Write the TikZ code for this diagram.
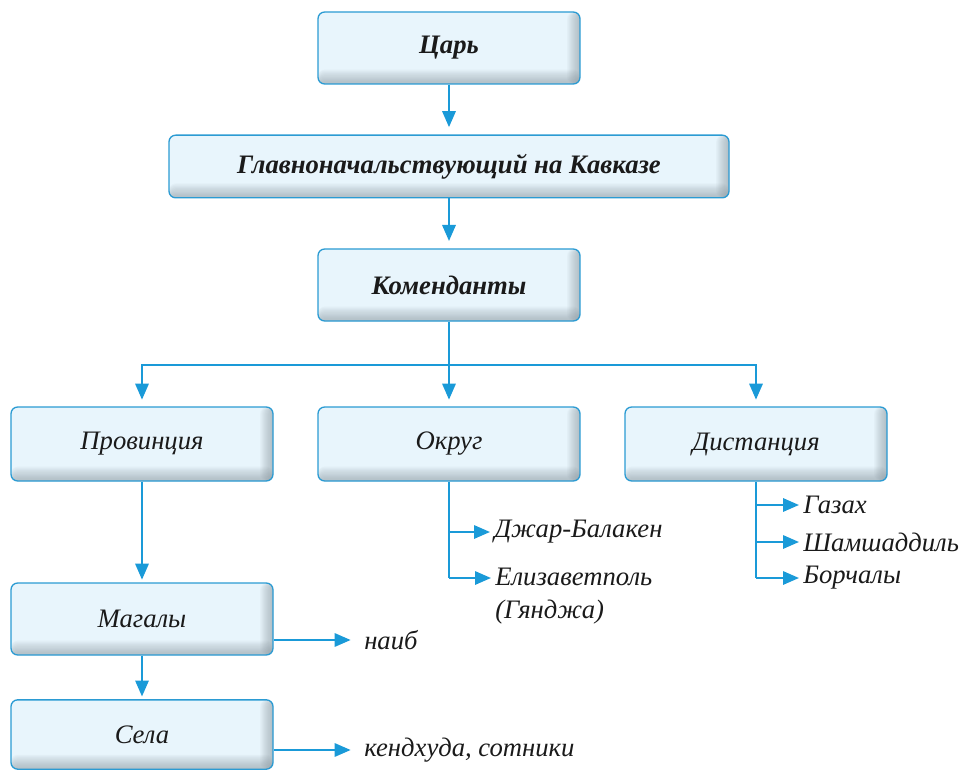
\documentclass[tikz,border=0pt]{standalone}
\usepackage{fontspec}
\setmainfont{Liberation Serif}
\usetikzlibrary{arrows.meta}
\definecolor{boxtop}{HTML}{E8F5FC}
\definecolor{boxbot}{HTML}{7F8C94}
\definecolor{edgeblue}{HTML}{2B9BD3}
\definecolor{arrblue}{HTML}{1A9AD8}
\definecolor{ink}{HTML}{1A1A1A}
\tikzset{
  box/.style={draw=edgeblue, line width=1pt, rounded corners=5pt, fill=boxtop,
    minimum width=196.5pt, minimum height=54pt, inner sep=0pt, text=ink,
    font=\fontsize{20}{24}\selectfont\itshape,
    path picture={
      \foreach \i in {1,...,12}{
        \fill[boxbot, fill opacity=0.05]
          ([xshift=-\i*0.8pt]path picture bounding box.north east) rectangle (path picture bounding box.south east);
        \fill[boxbot, fill opacity=0.05]
          ([yshift=\i*0.9pt]path picture bounding box.south west) rectangle (path picture bounding box.south east);
      }}},
  boldbox/.style={box, font=\fontsize{20}{24}\selectfont\bfseries\itshape},
  sidetext/.style={inner sep=0pt, text=ink, font=\fontsize{20}{24.75}\selectfont\itshape, align=left},
  conn/.style={draw=arrblue, line width=1.6pt},
  arrow/.style={conn, -{Triangle[length=12pt,width=10pt]}},
}
\begin{document}
\begin{tikzpicture}[x=0.75pt,y=-0.75pt]
\useasboundingbox (0,0) rectangle (961,770);
% main boxes
\node[boldbox] (tsar) at (449,48) {Царь};
\node[boldbox, minimum width=420pt, minimum height=47pt] (glav) at (449,166.5) {Главноначальствующий на Кавказе};
\node[boldbox] (kom) at (449,285) {Коменданты};
\node[box, minimum height=55.5pt] (prov) at (142,444) {Провинция};
\node[box, minimum height=55.5pt] (okrug) at (449,444) {Округ};
\node[box, minimum height=55.5pt] (dist) at (756,444) {Дистанция};
\node[box] (mag) at (142,619) {Магалы};
\node[box, minimum height=52pt] (sela) at (142,734.5) {Села};
% vertical chain
\draw[arrow, shorten >=5.5pt] (tsar) -- (glav);
\draw[arrow, shorten >=5.5pt] (glav) -- (kom);
\coordinate (split) at (449,365);
\draw[conn] (kom.south) -- (split);
\draw[arrow, shorten >=5pt] (split) -| (prov.north);
\draw[arrow, shorten >=5pt] (split) -- (okrug.north);
\draw[arrow, shorten >=5pt] (split) -| (dist.north);
\draw[arrow, shorten >=2pt] (prov) -- (mag);
\draw[arrow, shorten >=2pt] (mag) -- (sela);
% okrug list
\node[sidetext, anchor=west] (dzh) at (494,532) {Джар-Балакен};
\node[sidetext, anchor=north west] (eli) at (495,568) {Елизаветполь\\(Гянджа)};
\coordinate (ok1) at (449,532);
\coordinate (ok2) at (449,578);
\draw[conn] (okrug.south) -- (ok2);
\draw[arrow, shorten >=3pt] (ok1) -- (dzh.west);
\draw[arrow, shorten >=3pt] (ok2) -- (ok2 -| eli.west);
% distance list
\node[sidetext, anchor=west] (gaz) at (803,505) {Газах};
\node[sidetext, anchor=west] (sham) at (803,542) {Шамшаддиль};
\node[sidetext, anchor=west] (bor) at (803,578) {Борчалы};
\coordinate (d1) at (756,505);
\coordinate (d2) at (756,542);
\coordinate (d3) at (756,578);
\draw[conn] (dist.south) -- (d3);
\draw[arrow, shorten >=3pt] (d1) -- (gaz.west);
\draw[arrow, shorten >=3pt] (d2) -- (sham.west);
\draw[arrow, shorten >=3pt] (d3) -- (bor.west);
% side texts of lower boxes
\node[sidetext, anchor=west] (naib) at (364,640) {наиб};
\node[sidetext, anchor=west] (kend) at (364,750) {кендхуда, сотники};
\draw[arrow, shorten >=10pt] (naib.west -| mag.east) -- (naib.west);
\draw[arrow, shorten >=10pt] (kend.west -| sela.east) -- (kend.west);
\end{tikzpicture}
\end{document}
